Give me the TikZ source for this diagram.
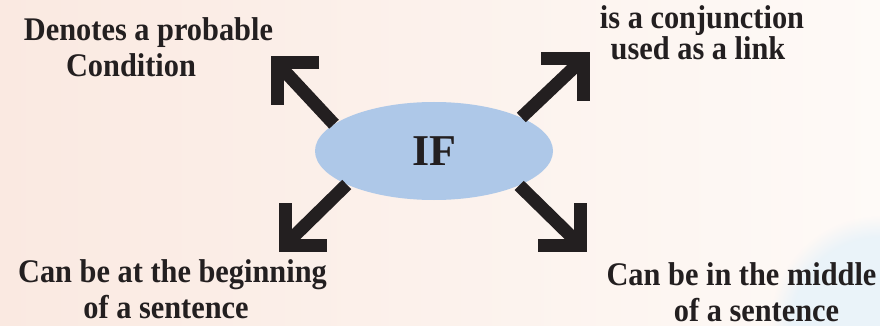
\documentclass[tikz,border=0pt]{standalone}
\usepackage{fontspec}
\setmainfont{Liberation Serif}[BoldFont={Liberation Serif Bold}]
\newfontfamily\lblfont{Liberation Serif}[BoldFont={Liberation Serif Bold},FakeStretch=0.92]
\usetikzlibrary{shapes.geometric,fadings}
\definecolor{bgL}{HTML}{FAE9E1}
\definecolor{bgM}{HTML}{FCE1D4}
\definecolor{bgR}{HTML}{FEFAF7}
\definecolor{bgB}{HTML}{EAF3F9}
\definecolor{ellfill}{HTML}{AEC8E8}
\definecolor{ink}{HTML}{231F20}
\begin{document}
\begin{tikzpicture}[x=1pt,y=-1pt,
  lbl/.style={font=\lblfont\fontsize{33}{33}\selectfont\bfseries, text=ink, inner sep=0pt, anchor=base},
  shaft/.style={draw=ink, line width=13pt, line cap=butt},
  head/.style={draw=ink, line width=13pt, line join=miter, line cap=butt}]
\useasboundingbox (0,0) rectangle (880,326);
\shade[left color=bgL, middle color=bgM, right color=bgR] (0,0) rectangle (880,326);
\fill[bgB, path fading=circle with fuzzy edge 20 percent] (880,326) circle (110);

\node (if) [ellipse, fill=ellfill, minimum width=238pt, minimum height=98pt, inner sep=0pt,
  font=\fontsize{44}{44}\selectfont\bfseries, text=ink] at (434,151) {IF};

\coordinate (tl) at (277,63);
\coordinate (tr) at (583,59);
\coordinate (bl) at (285,245);
\coordinate (br) at (580,245);

\draw[shaft] (if.165) -- (tl);
\draw[head] ([xshift=42pt]tl) -- (tl) -- ([yshift=-42pt]tl);
\draw[shaft] (if.21) -- (tr);
\draw[head] ([xshift=-42pt]tr) -- (tr) -- ([yshift=-42pt]tr);
\draw[shaft] (if.201) -- (bl);
\draw[head] ([yshift=42pt]bl) -- (bl) -- ([xshift=42pt]bl);
\draw[shaft] (if.338) -- (br);
\draw[head] ([yshift=42pt]br) -- (br) -- ([xshift=-42pt]br);

\node[lbl] (tl1) at (148.5,41) {Denotes a probable};
\node[lbl] (tl2) at (131,77) {Condition};
\node[lbl] (tr1) at (702,29) {is a conjunction};
\node[lbl] (tr2) at (698,60) {used as a link};
\node[lbl] (bl1) at (172.5,282) {Can be at the beginning};
\node[lbl] (bl2) at (166,318) {of a sentence};
\node[lbl] (br1) at (741.5,285) {Can be in the middle};
\node[lbl] (br2) at (756.5,321) {of a sentence};
\end{tikzpicture}
\end{document}
